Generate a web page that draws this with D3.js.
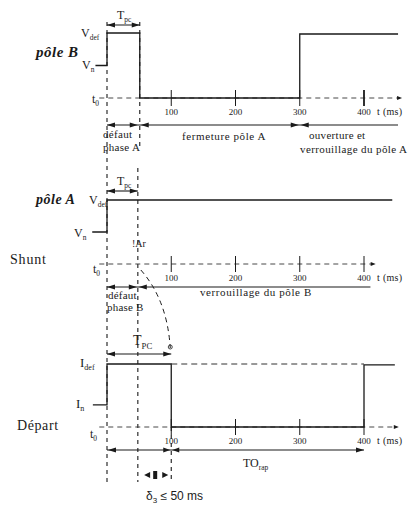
<!DOCTYPE html>
<html><head><meta charset="utf-8">
<script src="https://cdn.jsdelivr.net/npm/d3@7"></script>
<style>body{margin:0;background:#fff}svg{display:block}</style>
</head><body><svg id="c" width="411" height="507"></svg>
<script>
// ---- data ----
const ticks = [100, 200, 300, 400];
const tickLabels = ["100", "200", "300", "400"];
const poleBTime  = [-18, 0, 0, 51, 51, 300, 300, 453];
const poleBLevel = [1, 1, 2, 2, 0, 0, 1.97, 1.97];
const poleATime  = [-23, 0, 0, 444];
const poleALevel = [1, 1, 2, 2];
const departTime  = [-22, 0, 0, 100, 100, 400, 400, 448];
const departLevel = [0.7, 0.7, 2, 2, 0, 0, 1.97, 1.97];
const tpcTimes = [51, 48, 100];
const axisEnd = [453, 412, 448];
const deltaLimit = 50;

const svg = d3.select("#c");
const x = d3.scaleLinear().domain([0, 400]).range([107, 364]);
const ink = "#1a1a1a";
const serif = "Times New Roman, Liberation Serif, DejaVu Serif, serif";

const panels = [
  {y: d3.scaleLinear().domain([0, 2]).range([98, 33]),  t: poleBTime, v: poleBLevel},
  {y: d3.scaleLinear().domain([0, 2]).range([264, 200]), t: poleATime, v: poleALevel},
  {y: d3.scaleLinear().domain([0, 2]).range([427, 364]), t: departTime, v: departLevel}
];

function head(px, py, dir, len = 8, w = 2.6) {
  svg.append("path")
    .attr("d", `M${px},${py} L${px - dir * len},${py - w} L${px - dir * len},${py + w} Z`)
    .attr("fill", ink);
}
function line(x1, y1, x2, y2, dash, color = ink, w = 1.1) {
  const l = svg.append("line").attr("x1", x1).attr("y1", y1).attr("x2", x2).attr("y2", y2)
    .attr("stroke", color).attr("stroke-width", w);
  if (dash) l.attr("stroke-dasharray", dash);
  return l;
}
function txt(px, py, s, size = 10, opts = {}) {
  const t = svg.append("text").attr("x", px).attr("y", py)
    .style("font-family", opts.family || serif).attr("font-size", size).attr("fill", ink);
  if (opts.italic) t.attr("font-style", "italic");
  if (opts.bold) t.attr("font-weight", "bold");
  if (opts.anchor) t.attr("text-anchor", opts.anchor);
  if (opts.ls) t.attr("letter-spacing", opts.ls);
  t.text(s);
  return t;
}
function subTxt(px, py, main, sub, size = 12, opts = {}) {
  const t = svg.append("text").attr("x", px).attr("y", py)
    .style("font-family", opts.family || serif).attr("font-size", size).attr("fill", ink);
  if (opts.bold) t.attr("font-weight", "bold");
  t.append("tspan").text(main);
  t.append("tspan").attr("font-size", size * 0.62).attr("dy", size * 0.25).text(sub);
  return t;
}

// dashed verticals
line(x(0), 22, x(0), 482, "4,4");
line(x(tpcTimes[0]), 22, x(tpcTimes[0]), 146, "4,4");
line(x(tpcTimes[1]), 168, x(tpcTimes[1]), 482, "4,4");
line(x(tpcTimes[2]), 427, x(tpcTimes[2]), 482, "4,4");

// axes with ticks
panels.forEach((p, i) => {
  const y0 = p.y(0);
  line(x(-12), y0, x(axisEnd[i]), y0, "5,4", "#333", 0.9);
  head(x(axisEnd[i]) + 4, y0, 1, 5, 2);
  ticks.forEach((tk, k) => {
    line(x(tk), y0 - 8, x(tk), y0 + 8, null, ink, (i === 0 && tk === 400) ? 1.8 : 1);
    txt(x(tk), y0 + 17, tickLabels[k], 9, {anchor: "middle"});
  });
  txt(377, y0 + 17, "t (ms)", 10, {ls: 0.3});
});

// signals
panels.forEach(p => {
  svg.append("path")
    .datum(d3.range(p.t.length))
    .attr("d", d3.line().x(k => x(p.t[k])).y(k => p.y(p.v[k])))
    .attr("fill", "none").attr("stroke", ink).attr("stroke-width", 1.3);
});
// depart: dashed continuation at I_def level
line(x(departTime[3]), panels[2].y(2), x(400), panels[2].y(2), "6,4", "#333", 1);

// Tpc arrows
const tpcY = [25, 191, 354];
tpcTimes.forEach((tp, i) => {
  line(x(0), tpcY[i], x(tp), tpcY[i]);
  head(x(0), tpcY[i], -1);
  head(x(tp), tpcY[i], 1);
});
subTxt(117, 19, "T", "pc", 12);
subTxt(117, 185, "T", "pc", 12);
subTxt(133, 345, "T", "PC", 14);

// arrow rows
let ay = 125;
line(x(0), ay, x(453), ay);
head(x(0), ay, -1); head(x(tpcTimes[0]) - 2, ay, 1);
head(x(tpcTimes[0]) + 1, ay, -1); head(x(300) - 1, ay, 1);
head(x(300) + 1, ay, -1);
ay = 287;
line(x(0), ay, x(410), ay);
head(x(0), ay, -1); head(x(tpcTimes[1]) - 1, ay, 1);
head(x(tpcTimes[1]) + 1, ay, -1);
ay = 450;
line(x(0), ay, x(400), ay);
head(x(0) + 1, ay, -1); head(x(400), ay, 1);
head(x(tpcTimes[2]) - 1, ay, 1, 7, 2.6); head(x(tpcTimes[2]) + 1, ay, -1, 7, 2.6);

// delta arrow
const dy = 475, dl = x(tpcTimes[2] - deltaLimit), dr = x(tpcTimes[2]);
head(dl + 5, dy, -1, 6, 3);
head(dr - 3, dy, 1, 6, 3);
svg.append("rect").attr("x", (dl + dr) / 2 - 2).attr("y", dy - 4).attr("width", 4).attr("height", 8).attr("fill", ink);

// dashed curve from shunt to depart
svg.append("path")
  .attr("d", `M${x(tpcTimes[1]) + 3},${270} Q${x(tpcTimes[2]) - 4},${300} ${x(tpcTimes[2]) - 1},${348}`)
  .attr("fill", "none").attr("stroke", ink).attr("stroke-width", 1).attr("stroke-dasharray", "5,4");
svg.append("circle").attr("cx", x(tpcTimes[2]) - 1).attr("cy", 347).attr("r", 2)
  .attr("fill", "none").attr("stroke", ink).attr("stroke-width", 0.8);

// labels - top panel
txt(36, 57, "pôle B", 15, {italic: true, bold: true, ls: 0.5});
subTxt(81, 37, "V", "def", 12);
subTxt(82, 69, "V", "n", 12);
subTxt(92, 103, "t", "0", 12);
txt(103, 138, "défaut", 11, {ls: 0.3});
txt(103, 151, "phase A", 11, {ls: 0.3});
txt(182, 140, "fermeture pôle A", 11, {ls: 0.6});
txt(309, 139, "ouverture et", 11, {ls: 0.3});
txt(300, 153, "verrouillage du pôle A", 11, {ls: 0.4});

// labels - middle panel
txt(36, 204, "pôle A", 14, {italic: true, bold: true, ls: 0.5});
subTxt(89, 204, "V", "def", 12);
subTxt(74, 237, "V", "n", 12);
txt(132, 247, "!Ar", 10);
txt(10, 264, "Shunt", 14, {ls: 0.8});
subTxt(93, 273, "t", "0", 12);
txt(108, 299, "défaut", 11, {ls: 0.2});
txt(107, 311, "phase B", 11, {ls: 0.2});
txt(200, 296, "verrouillage du pôle B", 11, {ls: 0.6});

// labels - bottom panel
subTxt(80, 367, "I", "def", 13);
subTxt(76, 408, "I", "n", 13);
txt(17, 430, "Départ", 14, {ls: 0.6});
subTxt(90, 438, "t", "0", 12);
subTxt(243, 467, "TO", "rap", 12);
const dt = svg.append("text").attr("x", 146).attr("y", 500)
  .style("font-family", "Liberation Sans, DejaVu Sans, sans-serif").attr("font-size", 12).attr("fill", ink);
dt.append("tspan").text("δ");
dt.append("tspan").attr("font-size", 8).attr("dy", 3).text("3");
dt.append("tspan").attr("dy", -3).text(" ≤ " + deltaLimit + " ms");
</script></body></html>
